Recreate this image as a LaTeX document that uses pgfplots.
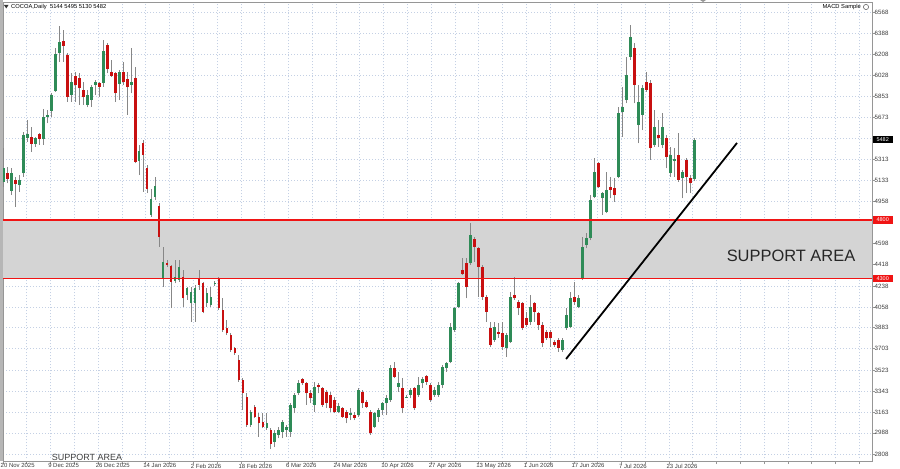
\documentclass[border=0pt]{standalone}
\usepackage{pgfplots}
\pgfplotsset{compat=1.18}
\usepackage{pgfplotstable}
\usepackage{fontspec}
\setmainfont{Liberation Sans}
\definecolor{cgreen}{RGB}{46,139,87}
\definecolor{cred}{RGB}{200,16,16}
\definecolor{cwick}{RGB}{135,135,135}
\definecolor{cgrid}{RGB}{196,208,228}
\definecolor{czone}{RGB}{212,212,212}
\definecolor{cline}{RGB}{240,20,20}
\definecolor{cframe}{RGB}{150,150,150}
\definecolor{ctext}{RGB}{60,60,60}

\pgfplotstableread{
i o h l c
1 5124 5408 5082 5238
3 5048 5238 5011 5196
5 5096 5181 5039 5139
6 5196 5550 5167 5522
7 5494 5649 5465 5528
9 5445 5507 5422 5494
11 5488 5740 5437 5677
12 5677 5734 5621 5692
13 5728 5876 5677 5862
14 5898 6259 5890 6208
15 6217 6449 6145 6315
18 5862 6046 5805 5975
22 5777 5904 5757 5862
23 5819 5947 5762 5932
24 5947 5989 5862 5970
26 5966 6330 5932 6239
30 5955 6074 5819 6055
33 5947 6259 5876 5975
35 5300 5437 5181 5388
38 4841 5060 4827 4975
39 4992 5167 4969 5088
41 4303 4571 4231 4444
44 4282 4458 4260 4316
45 4288 4458 4274 4401
47 4160 4231 4118 4217
48 4090 4231 3933 4189
49 4090 4246 3933 4217
52 4090 4217 4061 4175
53 4075 4231 4061 4146
54 4252 4280 4237 4263
63 3055 3182 3040 3168
67 3026 3154 3012 3069
69 2910 3012 2867 2986
70 2970 3040 2941 3012
71 2998 3097 2941 3083
72 3012 3055 2955 3040
73 2998 3239 2955 3225
74 3197 3324 3154 3310
75 3324 3437 3310 3409
79 3225 3423 3168 3380
85 3168 3239 3154 3216
88 3140 3197 3097 3154
90 3140 3367 3125 3352
94 3040 3168 3026 3154
95 3125 3197 3083 3182
96 3182 3253 3140 3239
97 3239 3310 3140 3282
98 3267 3565 3253 3537
100 3380 3508 3338 3409
102 3287 3310 3282 3295
103 3310 3367 3282 3352
105 3310 3465 3295 3395
106 3409 3465 3367 3446
109 3310 3380 3295 3352
110 3310 3423 3295 3395
111 3395 3565 3367 3550
112 3537 3593 3508 3579
113 3593 3920 3579 3891
114 3863 4061 3848 4047
115 4061 4274 4047 4260
118 4430 4770 4416 4671
124 3778 3933 3763 3891
127 3707 3835 3636 3820
128 3763 4189 3750 4146
133 3933 4160 3905 4061
141 3692 3792 3678 3778
142 3877 4047 3863 3990
143 3891 4189 3877 4132
145 4061 4160 4047 4138
146 4303 4656 4288 4571
147 4586 4685 4558 4643
148 4643 5011 4628 4969
149 4997 5323 4983 5209
151 4983 5039 4841 5026
152 4869 5209 4855 5054
155 5167 5762 5153 5706
156 5720 5932 5507 5762
157 5819 6188 5791 6032
158 6188 6457 6160 6358
160 5607 5947 5451 5805
161 5692 5947 5564 5919
164 5437 5734 5422 5592
166 5437 5706 5408 5592
168 5196 5422 5167 5351
169 5300 5408 5167 5317
171 5153 5224 4983 5209
174 5144 5495 5130 5482
}\G

\pgfplotstableread{
i o h l c
2 5201 5252 5111 5145
4 5139 5167 4912 5105
8 5507 5592 5380 5445
10 5528 5536 5437 5488
16 6324 6415 6145 6279
17 6202 6217 5805 5847
19 6023 6060 5805 5947
20 6004 6046 5777 5919
21 5904 5975 5777 5842
25 5966 5975 5847 5932
27 6287 6302 6046 6080
28 6055 6160 6017 6026
29 6046 6060 5805 5876
31 6055 6145 5947 5975
32 5995 6060 5692 5927
34 6004 6103 5281 5294
36 5451 5479 5039 5351
37 5238 5266 5026 5060
40 4918 4941 4571 4656
42 4430 4458 4401 4416
43 4407 4416 4047 4274
46 4316 4373 4061 4132
50 4303 4373 4203 4246
51 4260 4274 4005 4018
55 4303 4316 4033 4047
56 4033 4132 3848 3863
57 3877 3948 3820 3835
58 3820 3835 3678 3692
59 3707 3721 3650 3664
60 3607 3650 3423 3437
61 3437 3452 3182 3324
62 3295 3324 3040 3055
64 3210 3225 3112 3125
65 3125 3154 2955 3069
66 3083 3154 3026 3040
68 3012 3029 2850 2893
76 3443 3452 3395 3409
77 3409 3423 3225 3324
78 3324 3352 3239 3282
80 3395 3409 3324 3380
81 3367 3380 3210 3225
82 3338 3352 3197 3239
83 3310 3338 3168 3197
84 3267 3295 3154 3168
86 3197 3210 3112 3125
87 3168 3182 3069 3112
89 3140 3168 3097 3112
91 3338 3352 3197 3239
92 3253 3267 3197 3210
93 3168 3182 2970 2984
99 3542 3593 3452 3465
101 3367 3452 3154 3197
104 3367 3380 3182 3197
107 3474 3480 3395 3423
108 3395 3409 3253 3267
116 4373 4473 4331 4337
117 4430 4473 4132 4231
119 4637 4656 4444 4571
120 4558 4571 4146 4401
121 4401 4416 4118 4146
122 4146 4160 3933 4018
123 3877 3933 3721 3735
125 3848 3922 3795 3829
126 3835 3933 3692 3721
129 4160 4316 4118 4132
130 4098 4118 3990 4047
131 4090 4103 3863 3877
132 3962 4018 3891 3905
134 4090 4103 3933 4018
135 4005 4018 3863 3905
136 3905 3933 3721 3750
137 3848 3863 3778 3792
138 3848 3863 3721 3792
139 3763 3778 3721 3735
140 3778 3792 3678 3707
144 4146 4274 4075 4103
150 5281 5294 5068 5082
153 5082 5167 4983 5054
154 5068 5153 4954 5011
159 6259 6302 5791 5947
162 5975 6060 5890 5904
163 5961 5989 5309 5408
165 5522 5649 5422 5494
167 5494 5522 5238 5337
170 5351 5536 5124 5139
172 5309 5323 5026 5167
173 5153 5181 5026 5111
}\R

\begin{document}
\begin{tikzpicture}
\begin{axis}[
  at={(3bp,7.5bp)}, anchor=south west,
  scale only axis, width=869bp, height=459.5bp,
  xmin=0.925, xmax=218.5, ymin=2744, ymax=6653,
  axis line style={draw=cframe, line width=0.8bp},
  grid=major,
  major grid style={draw=cgrid, line width=0.6bp, dash pattern=on 1bp off 2bp},
  tick align=outside, major tick length=2.5bp,
  tick style={draw=cframe, line width=0.6bp},
  xtick pos=bottom, ytick pos=right, yticklabel pos=right,
  xtick={0.925,6.880,...,215.5},
  xticklabels={20 Nov 2025,{},9 Dec 2025,{},26 Dec 2025,{},14 Jan 2026,{},2 Feb 2026,{},18 Feb 2026,{},6 Mar 2026,{},24 Mar 2026,{},10 Apr 2026,{},27 Apr 2026,{},13 May 2026,{},1 Jun 2026,{},17 Jun 2026,{},7 Jul 2026,{},23 Jul 2026},
  xticklabel style={anchor=north west, inner sep=0pt, font=\fontsize{6}{7}\selectfont, text=ctext, xshift=-2.5bp, yshift=0.5bp},
  ytick={2808,2988,3163,3343,3523,3703,3883,4058,4238,4418,4598,4778,4958,5133,5313,5493,5673,5853,6028,6208,6388,6568},
  yticklabels={2808,2988,3163,3343,3523,3703,3883,4058,4238,4418,4598,{},4958,5133,5313,{},5673,5853,6028,6208,6388,6568},
  yticklabel style={anchor=west, inner sep=0pt, font=\fontsize{6.2}{7}\selectfont, text=ctext},
]
\fill[czone] (axis cs:0.925,4300) rectangle (axis cs:218.5,4800);
% wicks
\addplot[draw=none, mark=none, error bars/.cd, y dir=plus, y explicit, error mark=none,
  error bar style={draw=cwick, line width=1bp}]
  table[x=i, y=l, y error expr=\thisrow{h}-\thisrow{l}] {\G};
\addplot[draw=none, mark=none, error bars/.cd, y dir=plus, y explicit, error mark=none,
  error bar style={draw=cwick, line width=1bp}]
  table[x=i, y=l, y error expr=\thisrow{h}-\thisrow{l}] {\R};
% bodies
\addplot[draw=none, mark=none, error bars/.cd, y dir=plus, y explicit, error mark=none,
  error bar style={draw=cgreen, line width=2.8bp}]
  table[x=i, y=o, y error expr=\thisrow{c}-\thisrow{o}] {\G};
\addplot[draw=none, mark=none, error bars/.cd, y dir=plus, y explicit, error mark=none,
  error bar style={draw=cred, line width=2.8bp}]
  table[x=i, y=c, y error expr=\thisrow{o}-\thisrow{c}] {\R};
% support lines
\addplot[cline, line width=1.5bp] coordinates {(0.925,4800) (218.5,4800)};
\addplot[cline, line width=1.5bp] coordinates {(0.925,4300) (218.5,4300)};
% trend line
\addplot[black, line width=1.8bp] coordinates {(141.9,3616) (184.7,5454)};
\end{axis}
% left window edge
\fill[cframe!70] (0bp,7.5bp) rectangle (2.6bp,469bp);
% header
\fill[black!80] (4bp,464bp) -- (8.5bp,464bp) -- (6.25bp,460.5bp) -- cycle;
\node[anchor=west, inner sep=0pt, font=\fontsize{5.8}{6}\selectfont] at (11bp,462bp) {COCOA,Daily\ \ 5144 5495 5130 5482};
\node[anchor=east, inner sep=0pt, font=\fontsize{5.8}{6}\selectfont] at (861bp,462bp) {MACD Sample};
\draw[black!60, line width=0.6bp] (866bp,462bp) circle (2.6bp);
\fill[cframe] (700bp,469bp) -- (706bp,469bp) -- (703bp,467bp) -- cycle;
% price labels
\node[anchor=west, fill=black, text=white, inner sep=0pt, minimum width=20bp, minimum height=7.5bp, font=\fontsize{5.5}{6}\selectfont] at (872.5bp,329.3bp) {5482};
\node[anchor=west, fill=cline, text=white, inner sep=0pt, minimum width=20bp, minimum height=7.5bp, font=\fontsize{5.5}{6}\selectfont] at (872.5bp,249.2bp) {4800};
\node[anchor=west, fill=cline, text=white, inner sep=0pt, minimum width=20bp, minimum height=7.5bp, font=\fontsize{5.5}{6}\selectfont] at (872.5bp,190.4bp) {4300};
% texts
\node[font=\fontsize{16.5}{17}\selectfont, text=black!85] at (791bp,213bp) {SUPPORT AREA};
\node[font=\fontsize{9}{10}\selectfont, text=black!75] at (87bp,12bp) {SUPPORT AREA};
\pgfresetboundingbox
\useasboundingbox (0bp,0bp) rectangle (900bp,469bp);
\end{tikzpicture}
\end{document}
